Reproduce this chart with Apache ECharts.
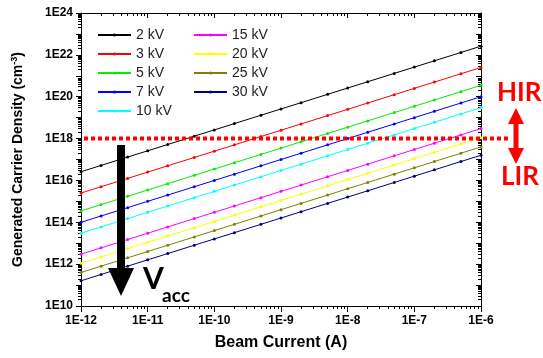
<!DOCTYPE html>
<html>
<head>
<meta charset="utf-8">
<script src="https://cdn.jsdelivr.net/npm/echarts@6/dist/echarts.min.js"></script>
<style>
  html, body { margin: 0; padding: 0; background: #fff; }
  #chart { width: 543px; height: 358px; }
</style>
</head>
<body>
<div id="chart"></div>
<script>
// Beam current (A) at which each curve is sampled
const beamCurrent = [1e-12, 2e-12, 5e-12, 1e-11, 2e-11, 5e-11, 1e-10, 2e-10, 5e-10,
                     1e-9, 2e-9, 5e-9, 1e-8, 2e-8, 5e-8, 1e-7, 2e-7, 5e-7, 1e-6];

// Generated carrier density (cm^-3) for each accelerating voltage
const density2kV  = [2.6e16, 5.2e16, 1.3e17, 2.6e17, 5.2e17, 1.3e18, 2.6e18, 5.2e18, 1.3e19, 2.6e19, 5.2e19, 1.3e20, 2.6e20, 5.2e20, 1.3e21, 2.6e21, 5.2e21, 1.3e22, 2.6e22];
const density3kV  = [2.5e15, 5.0e15, 1.25e16, 2.5e16, 5.0e16, 1.25e17, 2.5e17, 5.0e17, 1.25e18, 2.5e18, 5.0e18, 1.25e19, 2.5e19, 5.0e19, 1.25e20, 2.5e20, 5.0e20, 1.25e21, 2.5e21];
const density5kV  = [3.5e14, 7.0e14, 1.75e15, 3.5e15, 7.0e15, 1.75e16, 3.5e16, 7.0e16, 1.75e17, 3.5e17, 7.0e17, 1.75e18, 3.5e18, 7.0e18, 1.75e19, 3.5e19, 7.0e19, 1.75e20, 3.5e20];
const density7kV  = [1e14, 2e14, 5e14, 1e15, 2e15, 5e15, 1e16, 2e16, 5e16, 1e17, 2e17, 5e17, 1e18, 2e18, 5e18, 1e19, 2e19, 5e19, 1e20];
const density10kV = [3e13, 6e13, 1.5e14, 3e14, 6e14, 1.5e15, 3e15, 6e15, 1.5e16, 3e16, 6e16, 1.5e17, 3e17, 6e17, 1.5e18, 3e18, 6e18, 1.5e19, 3e19];
const density15kV = [3e12, 6e12, 1.5e13, 3e13, 6e13, 1.5e14, 3e14, 6e14, 1.5e15, 3e15, 6e15, 1.5e16, 3e16, 6e16, 1.5e17, 3e17, 6e17, 1.5e18, 3e18];
const density20kV = [1.1e12, 2.2e12, 5.5e12, 1.1e13, 2.2e13, 5.5e13, 1.1e14, 2.2e14, 5.5e14, 1.1e15, 2.2e15, 5.5e15, 1.1e16, 2.2e16, 5.5e16, 1.1e17, 2.2e17, 5.5e17, 1.1e18];
const density25kV = [4e11, 8e11, 2e12, 4e12, 8e12, 2e13, 4e13, 8e13, 2e14, 4e14, 8e14, 2e15, 4e15, 8e15, 2e16, 4e16, 8e16, 2e17, 4e17];
const density30kV = [1.6e11, 3.2e11, 8e11, 1.6e12, 3.2e12, 8e12, 1.6e13, 3.2e13, 8e13, 1.6e14, 3.2e14, 8e14, 1.6e15, 3.2e15, 8e15, 1.6e16, 3.2e16, 8e16, 1.6e17];

const seriesNames  = ['2 kV', '3 kV', '5 kV', '7 kV', '10 kV', '15 kV', '20 kV', '25 kV', '30 kV'];
const seriesValues = [density2kV, density3kV, density5kV, density7kV, density10kV,
                      density15kV, density20kV, density25kV, density30kV];
const seriesColors = ['#000000', '#ff0000', '#00ee00', '#0000ff', '#00ffff',
                      '#ff00ff', '#ffff00', '#808000', '#000080'];

// Axis tick labels (one per decade on x, every second decade on y)
const xTickExponents = [-12, -11, -10, -9, -8, -7, -6];
const xTickLabels    = ['1E-12', '1E-11', '1E-10', '1E-9', '1E-8', '1E-7', '1E-6'];
const yTickExponents = [10, 12, 14, 16, 18, 20, 22, 24];
const yTickLabels    = ['1E10', '1E12', '1E14', '1E16', '1E18', '1E20', '1E22', '1E24'];
const thresholdDensity = 1e18;

const X_MIN = 1e-12, X_MAX = 1e-6, Y_MIN = 1e10, Y_MAX = 1e24;
const AXIS_FONT = '"Liberation Sans", Arial, sans-serif';
const NOTE_FONT = 'Lato, "Open Sans", sans-serif';

function labelFor(exponents, labels) {
  return function (v) {
    const i = exponents.indexOf(Math.round(Math.log10(v)));
    return i >= 0 ? labels[i] : '';
  };
}

const line = { color: '#000', width: 1 };

// Log axis with a major tick every decade and 2..9 minor ticks in between
function logAxis(min, max, position, inside, extra) {
  return Object.assign({
    type: 'log', logBase: 10, min: min, max: max, interval: 1,
    position: position,
    splitLine: { show: false },
    minorSplitLine: { show: false },
    axisLine: { show: true, onZero: false, lineStyle: line },
    axisTick: { show: true, inside: inside, length: 5, lineStyle: line },
    minorTick: { show: true, splitNumber: 9, length: 3, lineStyle: line },
    axisLabel: { show: false }
  }, extra || {});
}

const labelStyle = { fontFamily: AXIS_FONT, fontWeight: 'bold', fontSize: 12, color: '#000' };

const xAxes = [
  logAxis(X_MIN, X_MAX, 'bottom', false, {
    axisTick: { show: true, inside: false, length: 6, lineStyle: line },
    axisLabel: Object.assign({ show: true, margin: 9, formatter: labelFor(xTickExponents, xTickLabels),
                               showMinLabel: true, showMaxLabel: true }, labelStyle),
    name: 'Beam Current (A)', nameLocation: 'middle', nameGap: 29,
    nameTextStyle: { fontFamily: AXIS_FONT, fontWeight: 'bold', fontSize: 16, color: '#000' }
  }),
  logAxis(X_MIN, X_MAX, 'top', true)
];

const yAxes = [
  logAxis(Y_MIN, Y_MAX, 'left', false, {
    axisLabel: Object.assign({ show: true, margin: 8, formatter: labelFor(yTickExponents, yTickLabels),
                               showMinLabel: true, showMaxLabel: true }, labelStyle),
    name: '{t|Generated Carrier Density (cm}{s|-3}{t|)}', nameLocation: 'middle', nameGap: 55,
    nameTextStyle: {
      rich: {
        t: { fontFamily: AXIS_FONT, fontWeight: 'bold', fontSize: 14, color: '#000' },
        s: { fontFamily: AXIS_FONT, fontWeight: 'bold', fontSize: 9, color: '#000', verticalAlign: 'top', padding: [0, 0, 7, 0] }
      }
    }
  }),
  logAxis(Y_MIN, Y_MAX, 'right', true)
];

const series = seriesNames.map((name, k) => ({
  type: 'line',
  name: name,
  xAxisIndex: 0,
  yAxisIndex: 0,
  data: beamCurrent.map((c, i) => [c, seriesValues[k][i]]),
  symbol: 'circle',
  symbolSize: 3,
  showSymbol: true,
  color: seriesColors[k],
  lineStyle: { width: 1, color: seriesColors[k] },
  itemStyle: { color: seriesColors[k] },
  emphasis: { disabled: true },
  z: 10 - k
}));

const legendBase = {
  orient: 'vertical', top: 27, itemWidth: 33, itemHeight: 4, itemGap: 3,
  textStyle: { fontFamily: AXIS_FONT, fontSize: 14, color: '#222', lineHeight: 16 },
  selectedMode: false, padding: 0
};

const chart = echarts.init(document.getElementById('chart'), null, { renderer: 'canvas' });
chart.setOption({
  animation: false,
  backgroundColor: '#ffffff',
  grid: { left: 81, right: 62, top: 13, bottom: 52, containLabel: false },
  xAxis: xAxes,
  yAxis: yAxes,
  legend: [
    Object.assign({ data: seriesNames.slice(0, 5), left: 97 }, legendBase),
    Object.assign({ data: seriesNames.slice(5), left: 193 }, legendBase)
  ],
  series: series
});

// Annotations: threshold line at 1E18, V_acc arrow, HIR / LIR regimes
const yThr = chart.convertToPixel({ yAxisIndex: 0 }, thresholdDensity);
const xLeft = chart.convertToPixel({ xAxisIndex: 0 }, X_MIN);

chart.setOption({
  graphic: [
    { type: 'line', z: 100,
      shape: { x1: xLeft + 3, y1: yThr, x2: 511, y2: yThr },
      style: { stroke: '#ff0000', lineWidth: 4, lineDash: [4, 3] } },
    { type: 'rect', z: 100,
      shape: { x: 117, y: 145, width: 8, height: 124 },
      style: { fill: '#000' } },
    { type: 'polygon', z: 100,
      shape: { points: [[108, 268], [134, 268], [121, 296]] },
      style: { fill: '#000' } },
    { type: 'text', z: 100, x: 143, y: 264,
      style: { text: 'V', font: 'bold 30px ' + NOTE_FONT, fill: '#000' } },
    { type: 'text', z: 100, x: 162, y: 286,
      style: { text: 'acc', font: 'bold 19px ' + NOTE_FONT, fill: '#000' } },
    { type: 'text', z: 100, x: 497, y: 80,
      style: { text: 'HIR', font: 'bold 26px ' + NOTE_FONT, fill: '#ff0000' } },
    { type: 'text', z: 100, x: 501, y: 164,
      style: { text: 'LIR', font: 'bold 26px ' + NOTE_FONT, fill: '#ff0000' } },
    { type: 'polygon', z: 100,
      shape: { points: [[516, 108], [524, 124], [518.5, 124], [518.5, 148], [524, 148], [516, 164],
                        [508, 148], [513.5, 148], [513.5, 124], [508, 124]] },
      style: { fill: '#ff0000' } }
  ]
});
</script>
</body>
</html>
